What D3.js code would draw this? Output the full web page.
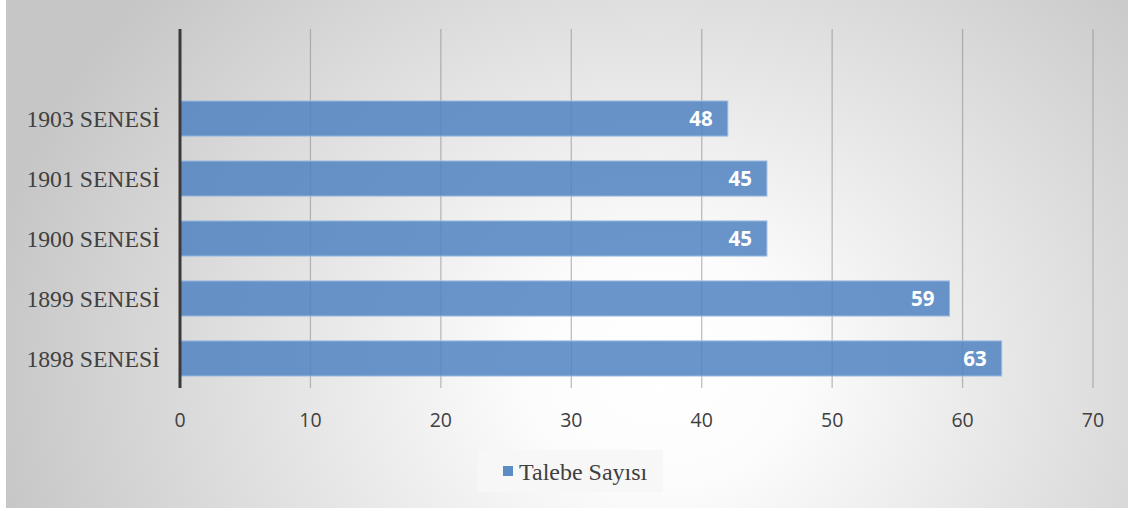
<!DOCTYPE html>
<html>
<head>
<meta charset="utf-8">
<script src="https://cdn.jsdelivr.net/npm/d3@7"></script>
<style>
  body { margin: 0; background: #fff; }
</style>
</head>
<body>
<div id="content"></div>
<script>
const width = 1128;
const height = 511;

// data, first item sits at the bottom
const categories = ['1898 SENESİ', '1899 SENESİ', '1900 SENESİ', '1901 SENESİ', '1903 SENESİ'];
const values = [63, 59, 45, 45, 42];
const labels = ['63', '59', '45', '45', '48'];
const xTicks = [0, 10, 20, 30, 40, 50, 60, 70];
const seriesName = 'Talebe Sayısı';

const plot = {left: 180, right: 1093, top: 29, bottom: 388};

const svg = d3.select('#content')
    .append('svg')
    .attr('width', width)
    .attr('height', height);

const defs = svg.append('defs');
const grad = defs.append('radialGradient')
    .attr('id', 'bgGrad')
    .attr('gradientUnits', 'userSpaceOnUse')
    .attr('cx', 660).attr('cy', 370)
    .attr('r', 680)
    .attr('gradientTransform', 'translate(660,370) scale(1,0.85) translate(-660,-370)');
grad.append('stop').attr('offset', '0%').attr('stop-color', '#ffffff');
grad.append('stop').attr('offset', '20%').attr('stop-color', '#fcfcfc');
grad.append('stop').attr('offset', '100%').attr('stop-color', '#c6c6c6');

svg.append('rect')
    .attr('x', 6).attr('y', 0)
    .attr('width', width - 6).attr('height', 508)
    .attr('fill', 'url(#bgGrad)');

const x = d3.scaleLinear()
    .domain([0, 70])
    .range([plot.left, plot.right]);

const y = d3.scaleBand()
    .domain(categories)
    .range([plot.bottom, plot.bottom - 5 * 59.8])
    .paddingInner(0.415)
    .paddingOuter(0.2);

// gridlines
svg.append('g')
    .selectAll('line')
    .data(xTicks.slice(1))
    .join('line')
    .attr('x1', d => x(d)).attr('x2', d => x(d))
    .attr('y1', plot.top).attr('y2', plot.bottom)
    .attr('stroke', '#8a8a8a')
    .attr('stroke-opacity', 0.55)
    .attr('stroke-width', 1.3);

// bars
const data = categories.map((c, i) => ({cat: c, v: values[i], lab: labels[i]}));

svg.append('g')
    .selectAll('rect')
    .data(data)
    .join('rect')
    .attr('x', x(0))
    .attr('y', d => y(d.cat))
    .attr('width', d => x(d.v) - x(0))
    .attr('height', y.bandwidth())
    .attr('fill', '#4f83c2')
    .attr('fill-opacity', 0.85)
    .attr('stroke', '#9cbbe0')
    .attr('stroke-width', 1);

svg.append('g')
    .selectAll('text')
    .data(data)
    .join('text')
    .attr('x', d => x(d.v) - 15)
    .attr('y', d => y(d.cat) + y.bandwidth() / 2)
    .attr('dy', '0.36em')
    .attr('text-anchor', 'end')
    .attr('font-family', 'Open Sans, Noto Sans, sans-serif')
    .attr('font-weight', 'bold')
    .attr('font-size', 20.5)
    .attr('fill', '#ffffff')
    .text(d => d.lab);

// vertical axis line
svg.append('line')
    .attr('x1', x(0)).attr('x2', x(0))
    .attr('y1', plot.top).attr('y2', plot.bottom)
    .attr('stroke', '#3a3a3a')
    .attr('stroke-width', 3);

// category labels
svg.append('g')
    .selectAll('text')
    .data(categories)
    .join('text')
    .attr('x', 160)
    .attr('y', d => y(d) + y.bandwidth() / 2)
    .attr('dy', '0.35em')
    .attr('text-anchor', 'end')
    .attr('font-family', 'Liberation Serif, Times New Roman, serif')
    .attr('font-size', 23.7)
    .attr('fill', '#404040')
    .text(d => d);

// x tick labels
svg.append('g')
    .selectAll('text')
    .data(xTicks)
    .join('text')
    .attr('x', d => x(d))
    .attr('y', 420)
    .attr('dy', '0.35em')
    .attr('text-anchor', 'middle')
    .attr('font-family', 'Open Sans, Noto Sans, sans-serif')
    .attr('font-size', 19.5)
    .attr('fill', '#404040')
    .text(d => d);

// legend
const legend = svg.append('g');
legend.append('rect')
    .attr('x', 478).attr('y', 450)
    .attr('width', 185).attr('height', 42)
    .attr('fill', '#f7f7f7');
legend.append('rect')
    .attr('x', 503).attr('y', 466)
    .attr('width', 10).attr('height', 10)
    .attr('fill', '#5b8cc6');
legend.append('text')
    .attr('x', 519).attr('y', 480)
    .attr('font-family', 'Liberation Serif, Times New Roman, serif')
    .attr('font-size', 24)
    .attr('fill', '#404040')
    .text(seriesName);
</script>
</body>
</html>
